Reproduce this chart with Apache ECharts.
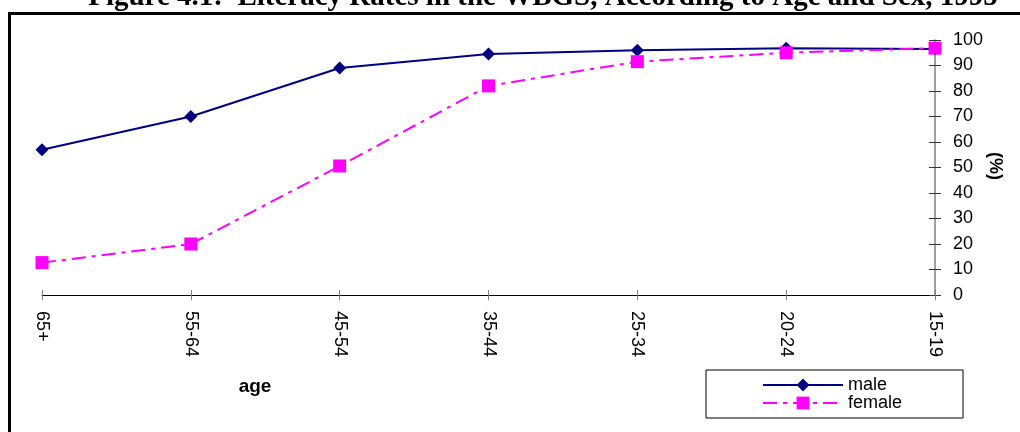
<!DOCTYPE html>
<html>
<head>
<meta charset="utf-8">
<script src="https://cdn.jsdelivr.net/npm/echarts@6/dist/echarts.min.js"></script>
<style>
  html, body { margin: 0; padding: 0; background: #fff; }
  #chart { width: 1020px; height: 432px; }
</style>
</head>
<body>
<div id="chart"></div>
<script>
// data
const ageGroups = ['65+', '55-64', '45-54', '35-44', '25-34', '20-24', '15-19']
const male = [57, 70, 89, 94.5, 96, 96.8, 96.5]
const female = [12.7, 20, 50.6, 82, 91.5, 95, 96.8]
const yTicks = { min: 0, max: 100, interval: 10 }

const chart = echarts.init(document.getElementById('chart'))
const font = '"Liberation Sans", Arial, sans-serif'
const gray = '#808080'

chart.setOption({
  animation: false,
  backgroundColor: '#fff',
  grid: { left: 42, right: 85, top: 40, bottom: 137 },
  graphic: [
    // outer frame (left + top edges visible)
    {
      type: 'rect',
      shape: { x: 9.5, y: 13.5, width: 1030, height: 440 },
      style: { fill: 'none', stroke: '#000', lineWidth: 3 },
      z: 0,
    },
    {
      type: 'text',
      x: 543,
      y: -2,
      style: {
        text: 'Figure 4.1:  Literacy Rates in the WBGS, According to Age and Sex, 1995',
        font: 'bold 29px "Liberation Serif", "Times New Roman", serif',
        fill: '#000',
        align: 'center',
        verticalAlign: 'middle',
      },
    },
    {
      type: 'text',
      x: 255,
      y: 387,
      style: {
        text: 'age',
        font: 'bold 19px ' + font,
        fill: '#000',
        align: 'center',
        verticalAlign: 'middle',
      },
    },
    // y axis title, rotated to read downward
    {
      type: 'text',
      x: 995,
      y: 166,
      rotation: -Math.PI / 2,
      style: {
        text: '(%)',
        font: 'bold 18px ' + font,
        fill: '#000',
        align: 'center',
        verticalAlign: 'middle',
      },
    },
  ],
  legend: {
    orient: 'vertical',
    left: 706,
    top: 370,
    padding: [6, 61, 6, 56],
    itemGap: 0,
    itemWidth: 80,
    itemHeight: 16,
    borderColor: '#000',
    borderWidth: 1,
    borderRadius: 0,
    textStyle: { fontFamily: font, fontSize: 18, lineHeight: 18, color: '#000' },
    data: ['male', 'female'],
  },
  xAxis: [
    {
      type: 'category',
      data: ageGroups,
      boundaryGap: false,
      axisLine: { lineStyle: { color: '#000', width: 1 } },
      axisTick: { show: true, length: 5, lineStyle: { color: gray } },
      axisLabel: { rotate: -90, margin: 16, fontFamily: font, fontSize: 18, color: '#000' },
      splitLine: { show: false },
    },
    {
      type: 'category',
      data: ageGroups,
      boundaryGap: false,
      position: 'bottom',
      axisLine: { show: false },
      axisTick: { show: true, inside: true, length: 5, lineStyle: { color: gray } },
      axisLabel: { show: false },
      splitLine: { show: false },
    },
  ],
  yAxis: [
    {
      type: 'value',
      position: 'right',
      min: yTicks.min,
      max: yTicks.max,
      interval: yTicks.interval,
      axisLine: { show: true, lineStyle: { color: gray, width: 1.5 } },
      axisTick: { show: true, length: 6, lineStyle: { color: '#333' } },
      axisLabel: { margin: 18, fontFamily: font, fontSize: 18, color: '#000' },
      splitLine: { show: false },
    },
    {
      type: 'value',
      position: 'right',
      min: yTicks.min,
      max: yTicks.max,
      interval: yTicks.interval,
      axisLine: { show: false },
      axisTick: { show: true, inside: true, length: 6, lineStyle: { color: '#333' } },
      axisLabel: { show: false },
      splitLine: { show: false },
    },
  ],
  series: [
    {
      name: 'male',
      type: 'line',
      data: male,
      symbol: 'diamond',
      symbolSize: 13,
      showAllSymbol: true,
      itemStyle: { color: '#000080' },
      lineStyle: { color: '#000080', width: 2 },
      z: 3,
    },
    {
      name: 'female',
      type: 'line',
      data: female,
      symbol: 'rect',
      symbolSize: 13,
      showAllSymbol: true,
      itemStyle: { color: '#FF00FF' },
      lineStyle: { color: '#FF00FF', width: 2, type: [14, 6, 4, 6] },
      z: 4,
    },
  ],
})
</script>
</body>
</html>
